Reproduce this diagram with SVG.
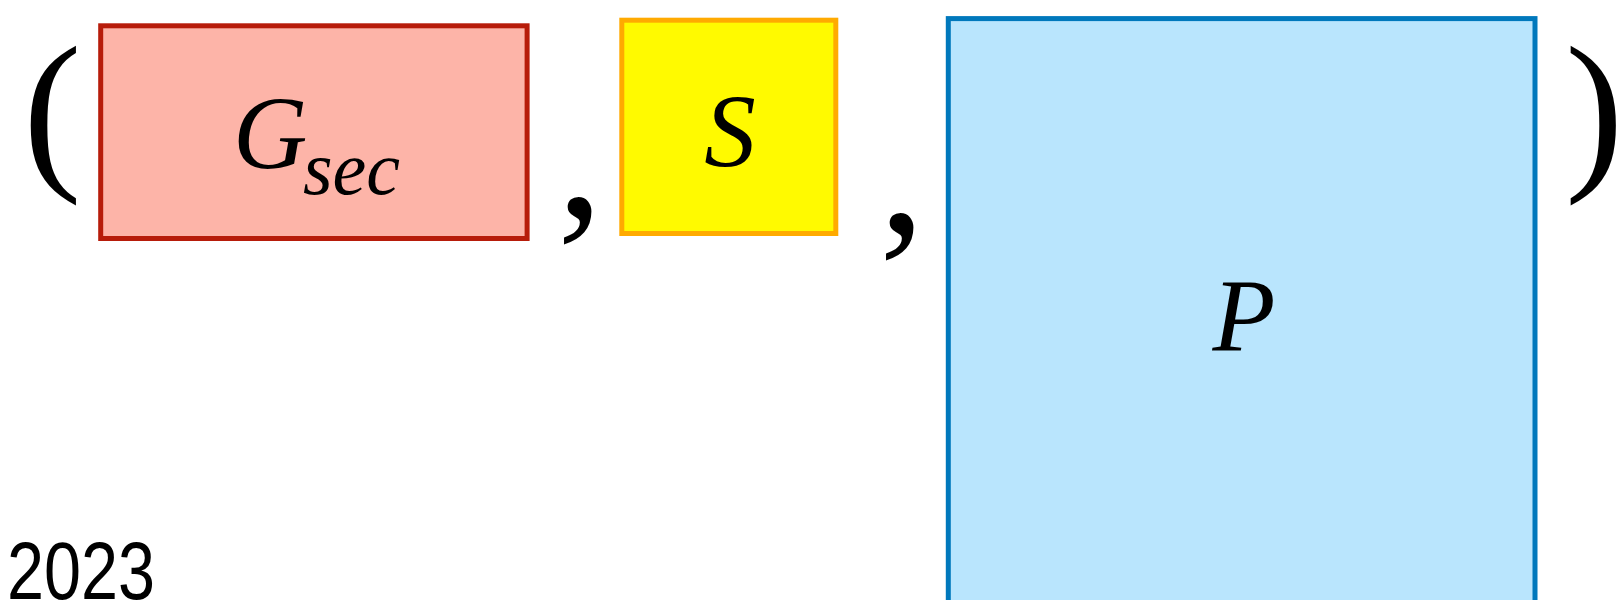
<svg xmlns="http://www.w3.org/2000/svg" width="1619" height="600" viewBox="0 0 1619 600">
<style>
.math{font-family:"Liberation Serif","Times New Roman",serif;fill:#000}
.it{font-style:italic}
.paren{font-size:176px}
.comma{font-size:184px}
.lbl{font-size:103px}
.sub{font-size:76px}
.box{stroke-width:5}
</style>
<rect width="1619" height="600" fill="#fff"/>
<g id="punctuation">
<text class="math paren" x="23" y="168">(</text>
<text class="math comma" x="557" y="216">,</text>
<text class="math comma" x="879" y="232">,</text>
<text class="math paren" x="1565" y="168">)</text>
</g>
<g id="node-gsec">
<rect class="box" x="100.7" y="25.8" width="426.4" height="212.7" fill="#FDB4A8" stroke="#B71C0A"/>
<text class="math it lbl" x="233" y="168">G</text>
<text class="math it sub" x="303" y="194">sec</text>
</g>
<g id="node-s">
<rect class="box" x="621.8" y="20.2" width="214" height="213.3" fill="#FFFA00" stroke="#FFAA00"/>
<text class="math it lbl" x="730" y="166" text-anchor="middle">S</text>
</g>
<g id="node-p">
<rect class="box" x="948.3" y="18.6" width="586.7" height="598" fill="#B9E5FD" stroke="#0078BC"/>
<text class="math it lbl" x="1244" y="351" text-anchor="middle">P</text>
</g>
<g id="year">
<text x="7" y="599" font-family="'Liberation Sans Narrow','Liberation Sans',sans-serif" font-size="82" textLength="148" lengthAdjust="spacingAndGlyphs" fill="#000">2023</text>
</g>
</svg>
